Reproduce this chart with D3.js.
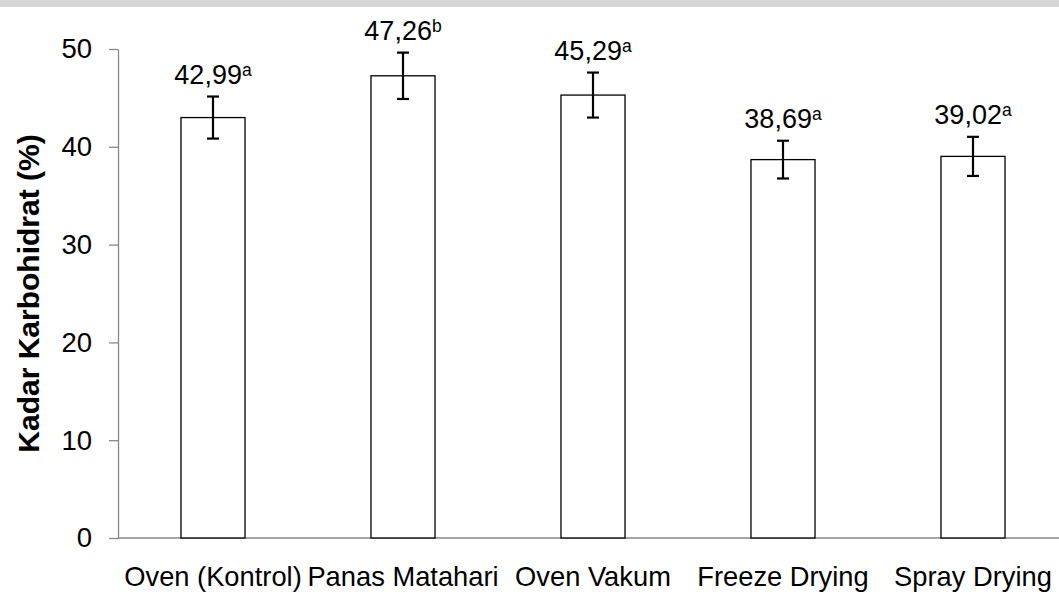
<!DOCTYPE html>
<html>
<head>
<meta charset="utf-8">
<script src="https://cdn.jsdelivr.net/npm/d3@7"></script>
<style>
  body { margin: 0; background: #fff; }
  svg { display: block; font-family: "Liberation Sans", Arial, sans-serif; }
</style>
</head>
<body>
<svg width="1059" height="594"></svg>
<script>
// data
var categories = ["Oven (Kontrol)", "Panas Matahari", "Oven Vakum", "Freeze Drying", "Spray Drying"]
var values = [42.99, 47.26, 45.29, 38.69, 39.02]
var errors = [2.15, 2.37, 2.3, 1.93, 2.0]
var letters = ["a", "b", "a", "a", "a"]
var y_ticks = [0, 10, 20, 30, 40, 50]

var width = 1059
var height = 594
var plot_left = 118
var plot_right = 1068
var plot_top = 49
var plot_bottom = 538

var svg = d3.select("svg")

// grey strip along the top edge of the scan
svg.append("rect")
  .attr("x", 0)
  .attr("y", 0)
  .attr("width", width)
  .attr("height", 7)
  .attr("fill", "#d6d6d6")

var x = d3.scaleBand()
  .domain(categories)
  .range([plot_left, plot_right])
  .paddingInner(0.663)
  .paddingOuter(0.3315)

var y = d3.scaleLinear()
  .domain([0, 50])
  .range([plot_bottom, plot_top])

var rows = categories.map(function(c, i) {
  return {name: c, value: values[i], err: errors[i], letter: letters[i]}
})

/******
* axes
******/
var y_axis = svg.append("g")
  .attr("transform", "translate(" + plot_left + ",0)")
  .call(d3.axisLeft(y).tickValues(y_ticks).tickSize(9).tickSizeOuter(0).tickPadding(17))

y_axis.selectAll("path, line")
  .attr("stroke", "#878787")
  .attr("stroke-width", 1.3)
y_axis.selectAll("text")
  .attr("font-size", 27.5)
  .attr("fill", "#000")
  .attr("font-family", "Liberation Sans, Arial, sans-serif")

// x axis line, no ticks
svg.append("line")
  .attr("x1", plot_left)
  .attr("x2", width)
  .attr("y1", y(0))
  .attr("y2", y(0))
  .attr("stroke", "#878787")
  .attr("stroke-width", 1.3)

svg.append("g")
  .selectAll("text")
  .data(categories)
  .enter()
  .append("text")
  .attr("x", function(d) { return x(d) + x.bandwidth() / 2 })
  .attr("y", 586)
  .attr("text-anchor", "middle")
  .attr("font-size", 27.3)
  .text(function(d) { return d })

svg.append("text")
  .attr("transform", "translate(39," + ((plot_top + plot_bottom) / 2) + ") rotate(-90)")
  .attr("text-anchor", "middle")
  .attr("font-size", 30)
  .attr("font-weight", "bold")
  .text("Kadar Karbohidrat (%)")

/******
* bars
******/
svg.append("g")
  .selectAll("rect")
  .data(rows)
  .enter()
  .append("rect")
  .attr("x", function(d) { return x(d.name) })
  .attr("y", function(d) { return y(d.value) })
  .attr("width", x.bandwidth())
  .attr("height", function(d) { return y(0) - y(d.value) })
  .attr("fill", "#fff")
  .attr("stroke", "#000")
  .attr("stroke-width", 1.3)

// error bars
var err_g = svg.append("g")
  .selectAll("g")
  .data(rows)
  .enter()
  .append("g")
  .attr("stroke", "#000")
  .attr("stroke-width", 2.2)

function cx(d) { return x(d.name) + x.bandwidth() / 2 }

err_g.append("line")
  .attr("x1", cx)
  .attr("x2", cx)
  .attr("y1", function(d) { return y(d.value + d.err) })
  .attr("y2", function(d) { return y(d.value - d.err) })

err_g.append("line")
  .attr("x1", function(d) { return cx(d) - 6 })
  .attr("x2", function(d) { return cx(d) + 6 })
  .attr("y1", function(d) { return y(d.value + d.err) })
  .attr("y2", function(d) { return y(d.value + d.err) })

err_g.append("line")
  .attr("x1", function(d) { return cx(d) - 6 })
  .attr("x2", function(d) { return cx(d) + 6 })
  .attr("y1", function(d) { return y(d.value - d.err) })
  .attr("y2", function(d) { return y(d.value - d.err) })

// value labels with superscript letter
var lbl = svg.append("g")
  .selectAll("text")
  .data(rows)
  .enter()
  .append("text")
  .attr("x", cx)
  .attr("y", function(d) { return y(d.value + d.err) - 13 })
  .attr("text-anchor", "middle")
  .attr("font-size", 27)

lbl.append("tspan")
  .text(function(d) { return d.value.toFixed(2).replace(".", ",") })

lbl.append("tspan")
  .attr("dy", -8)
  .attr("font-size", 17.5)
  .text(function(d) { return d.letter })
</script>
</body>
</html>
